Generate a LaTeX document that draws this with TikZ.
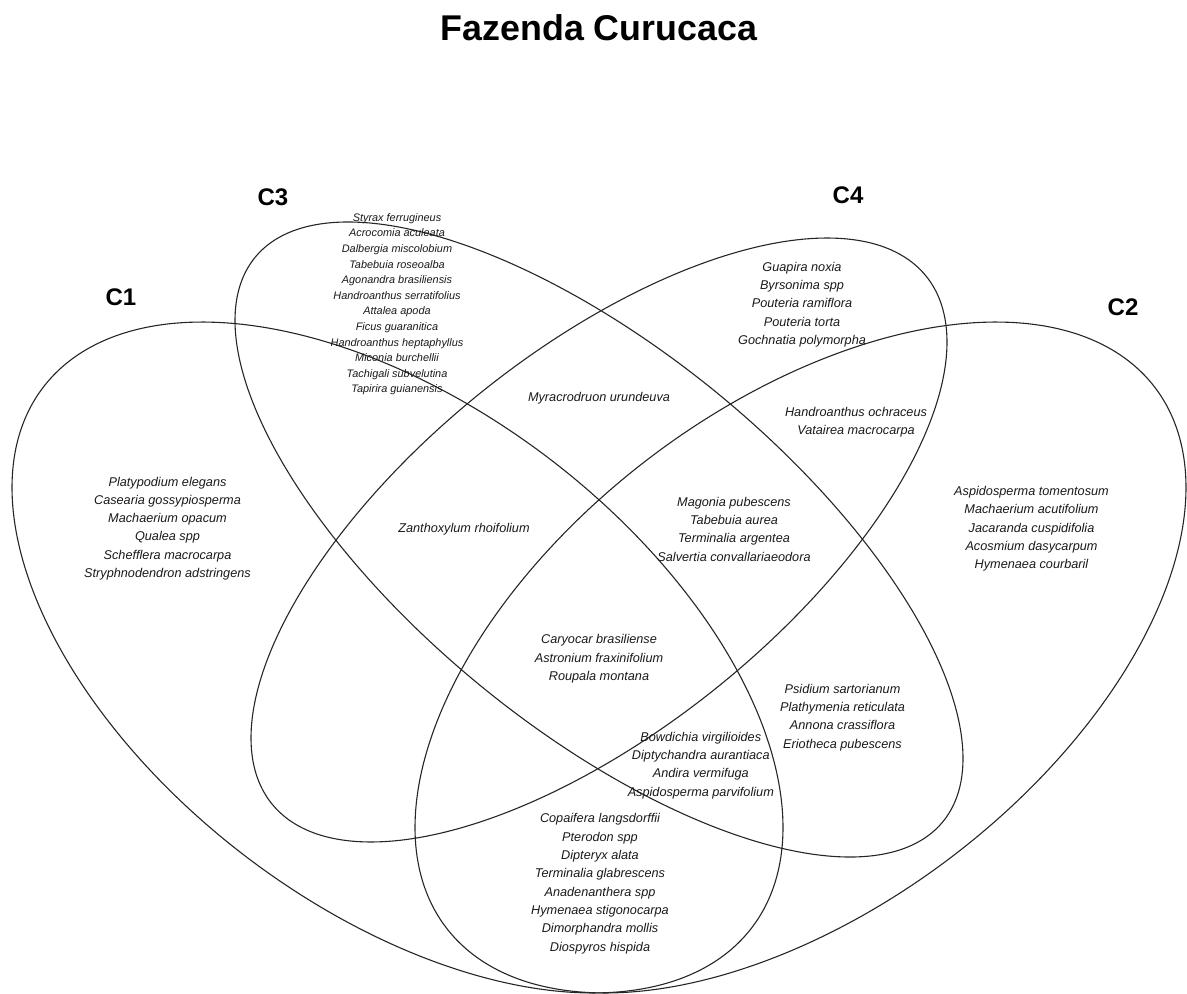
\documentclass[tikz,border=0pt]{standalone}
\usepackage{fontspec}
\setmainfont{Liberation Sans}
\begin{document}
\begin{tikzpicture}[x=0.5pt,y=-0.5pt]
\tikzset{
  venn/.style={draw=black!85, line width=0.55pt},
  sp/.style={align=center, inner sep=0pt, text=black!90, font=\fontsize{6.35}{9.15}\selectfont\itshape},
  spsmall/.style={align=center, inner sep=0pt, text=black!90, font=\fontsize{5.45}{7.8}\selectfont\itshape},
  catlab/.style={inner sep=0pt, font=\fontsize{12}{14}\selectfont\bfseries},
  titlelab/.style={inner sep=0pt, font=\fontsize{17.9}{20}\selectfont\bfseries},
}
\useasboundingbox (0,0) rectangle (1187,994);
% ellipses
\draw[venn] plot[domain=0:358.5, samples=240, smooth cycle, variable=\t]
  ({397.5+385.5*cos(\t)}, {657.5+170*cos(\t)+289.2*sin(\t)});
\draw[venn] plot[domain=0:358.5, samples=240, smooth cycle, variable=\t]
  ({800.5-385.5*cos(\t)}, {657.5+170*cos(\t)+289.2*sin(\t)});
\draw[venn] plot[domain=0:358.5, samples=240, smooth cycle, variable=\t]
  ({599+364*cos(\t)}, {539.5+218.9*cos(\t)+230*sin(\t)});
\draw[venn] plot[domain=0:358.5, samples=240, smooth cycle, variable=\t]
  ({599+348*cos(\t)}, {540-197.9*cos(\t)+228.1*sin(\t)});
% title and category labels
\node[titlelab] (title) at (599,28) {Fazenda Curucaca};
\node[catlab] (c1) at (121,297) {C1};
\node[catlab] (c3) at (273,197) {C3};
\node[catlab] (c4) at (848,195) {C4};
\node[catlab] (c2) at (1123,307) {C2};
% region contents
\node[spsmall] (r3) at (397,304.2) {Styrax ferrugineus\\Acrocomia aculeata\\Dalbergia miscolobium\\Tabebuia roseoalba\\Agonandra brasiliensis\\Handroanthus serratifolius\\Attalea apoda\\Ficus guaranitica\\Handroanthus heptaphyllus\\Miconia burchellii\\Tachigali subvelutina\\Tapirira guianensis};
\node[sp] (r4) at (802,304.7) {Guapira noxia\\Byrsonima spp\\Pouteria ramiflora\\Pouteria torta\\Gochnatia polymorpha};
\node[sp] (r34) at (599,398) {Myracrodruon urundeuva};
\node[sp] (r42) at (856,422.5) {Handroanthus ochraceus\\Vatairea macrocarpa};
\node[sp] (r1) at (167.5,528.5) {Platypodium elegans\\Casearia gossypiosperma\\Machaerium opacum\\Qualea spp\\Schefflera macrocarpa\\Stryphnodendron adstringens};
\node[sp] (r2) at (1031.5,528.8) {Aspidosperma tomentosum\\Machaerium acutifolium\\Jacaranda cuspidifolia\\Acosmium dasycarpum\\Hymenaea courbaril};
\node[sp] (r13) at (464,529) {Zanthoxylum rhoifolium};
\node[sp] (r342) at (734,529.2) {Magonia pubescens\\Tabebuia aurea\\Terminalia argentea\\Salvertia convallariaeodora};
\node[sp] (rall) at (599,658.8) {Caryocar brasiliense\\Astronium fraxinifolium\\Roupala montana};
\node[sp] (r23) at (842.5,717.5) {Psidium sartorianum\\Plathymenia reticulata\\Annona crassiflora\\Eriotheca pubescens};
\node[sp] (r123) at (700.8,765.4) {Bowdichia virgilioides\\Diptychandra aurantiaca\\Andira vermifuga\\Aspidosperma parvifolium};
\node[sp] (r12) at (600,883.7) {Copaifera langsdorffii\\Pterodon spp\\Dipteryx alata\\Terminalia glabrescens\\Anadenanthera spp\\Hymenaea stigonocarpa\\Dimorphandra mollis\\Diospyros hispida};
\end{tikzpicture}
\end{document}
